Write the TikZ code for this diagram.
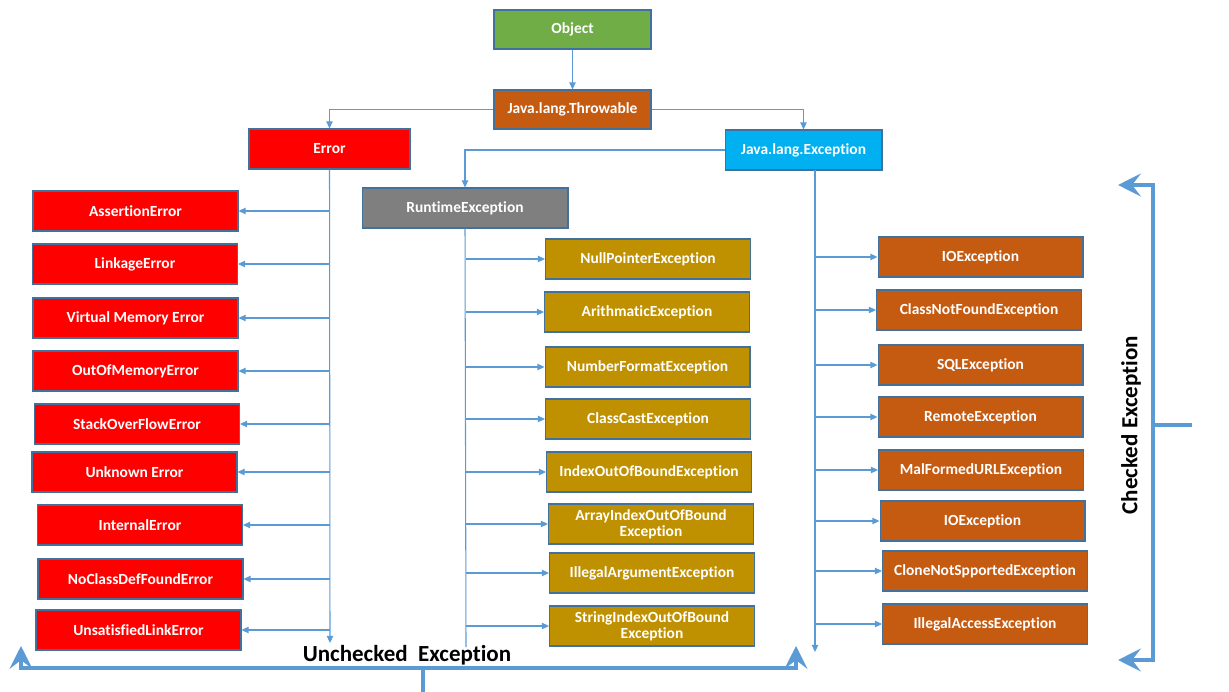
\documentclass[tikz,border=0pt]{standalone}
\usepackage{fontspec}
\setmainfont{Carlito}[Ligatures=NoCommon]
\usetikzlibrary{arrows.meta}

\definecolor{connblue}{HTML}{5B9BD5}
\definecolor{boxline}{HTML}{41719C}
\definecolor{objgreen}{HTML}{70AD47}
\definecolor{thrbrown}{HTML}{C55A11}
\definecolor{errred}{HTML}{FF0000}
\definecolor{exccyan}{HTML}{00B0F0}
\definecolor{rtgray}{HTML}{7F7F7F}
\definecolor{rtgold}{HTML}{BF9000}

\tikzset{
  box/.style={draw=boxline, line width=0.6pt, text=white, align=center,
    font=\bfseries\fontsize{8.8}{9.2}\selectfont, inner sep=1pt,
    minimum width=4.1cm, minimum height=0.8cm},
  errbox/.style={box, fill=errred},
  rtbox/.style={box, fill=rtgold},
  chkbox/.style={box, fill=thrbrown},
  conn/.style={draw=connblue, line width=0.6pt},
  arr/.style={-{Triangle[length=4pt,width=3.6pt]}},
  brace/.style={draw=connblue, line width=2.3pt, line join=miter,
    {Stealth[length=13pt,width=13pt,inset=5pt]}-{Stealth[length=13pt,width=13pt,inset=5pt]}},
  stem/.style={draw=connblue, line width=2.3pt},
  lbl/.style={font=\bfseries\fontsize{13.1}{14}\selectfont, text=black}
}

\begin{document}
\begin{tikzpicture}[x=0.02cm, y=-0.02cm]
\useasboundingbox (0,0) rectangle (1229,692);

% top of the tree
\node[box, fill=objgreen, minimum width=3.14cm, minimum height=0.78cm] (obj) at (572.5,29.5) {Object};
\node[box, fill=thrbrown, minimum width=3.14cm, minimum height=0.78cm] (thr) at (572.5,109.5) {Java.lang.Throwable};
\node[box, fill=errred, minimum width=3.22cm] (err) at (329.5,149) {Error};
\node[box, fill=exccyan, minimum width=3.14cm] (exc) at (803.5,150) {Java.lang.Exception};
\node[box, fill=rtgray, minimum width=4.12cm] (rt) at (465,208) {RuntimeException};

\draw[conn,arr] (obj) -- (thr);
\draw[conn,arr] (thr.west) -| (err.north);
\draw[conn,arr] (thr.east) -| (exc.north);
\draw[conn,arr] (exc.west) -| (rt.north);

% errors
\node[errbox] (asse) at (135.5,211) {AssertionError};
\node[errbox] (linke) at (135,264) {LinkageError};
\node[errbox] (vme) at (135.5,318) {Virtual Memory Error};
\node[errbox] (oome) at (135.5,371) {OutOfMemoryError};
\node[errbox] (sofe) at (137,424) {StackOverFlowError};
\node[errbox] (unke) at (134.5,472) {Unknown Error};
\node[errbox] (inte) at (140,525) {InternalError};
\node[errbox] (ncdfe) at (140.5,579) {NoClassDefFoundError};
\node[errbox] (usle) at (138.5,630) {UnsatisfiedLinkError};

\coordinate (errend) at (330,643);
\draw[conn,arr] (err.south) -- (errend);
\draw[conn,arr] (errend |- asse.east) -- (asse.east);
\draw[conn,arr] (errend |- linke.east) -- (linke.east);
\draw[conn,arr] (errend |- vme.east) -- (vme.east);
\draw[conn,arr] (errend |- oome.east) -- (oome.east);
\draw[conn,arr] (errend |- sofe.east) -- (sofe.east);
\draw[conn,arr] (errend |- unke.east) -- (unke.east);
\draw[conn,arr] (errend |- inte.east) -- (inte.east);
\draw[conn,arr] (errend |- ncdfe.east) -- (ncdfe.east);
\draw[conn,arr] (errend |- usle.east) -- (usle.east);

% runtime exceptions
\node[rtbox] (npe) at (648,259) {NullPointerException};
\node[rtbox] (arie) at (647,312) {ArithmaticException};
\node[rtbox] (nfe) at (647.5,367) {NumberFormatException};
\node[rtbox] (cce) at (648,419) {ClassCastException};
\node[rtbox] (ioobe) at (649,472) {IndexOutOfBoundException};
\node[rtbox] (aioobe) at (651,524) {ArrayIndexOutOfBound\\Exception};
\node[rtbox] (iae) at (652,573) {IllegalArgumentException};
\node[rtbox] (sioobe) at (652,626) {StringIndexOutOfBound\\Exception};

\coordinate (rtend) at (466,647);
\draw[conn] (rt.south) -- (rtend);
\draw[conn,arr] (rtend |- npe.west) -- (npe.west);
\draw[conn,arr] (rtend |- arie.west) -- (arie.west);
\draw[conn,arr] (rtend |- nfe.west) -- (nfe.west);
\draw[conn,arr] (rtend |- cce.west) -- (cce.west);
\draw[conn,arr] (rtend |- ioobe.west) -- (ioobe.west);
\draw[conn,arr] (rtend |- aioobe.west) -- (aioobe.west);
\draw[conn,arr] (rtend |- iae.west) -- (iae.west);
\draw[conn,arr] (rtend |- sioobe.west) -- (sioobe.west);

% checked exceptions
\node[chkbox] (ioe) at (980.5,257) {IOException};
\node[chkbox] (cnfe) at (979,310) {ClassNotFoundException};
\node[chkbox] (sqle) at (980.5,365) {SQLException};
\node[chkbox] (reme) at (980.5,417) {RemoteException};
\node[chkbox] (murle) at (981,470) {MalFormedURLException};
\node[chkbox] (ioe2) at (982.5,521) {IOException};
\node[chkbox] (cnse) at (985,571) {CloneNotSpportedException};
\node[chkbox] (iacce) at (985,624) {IllegalAccessException};

\coordinate (exctop) at (815,170);
\coordinate (excend) at (815,652);
\draw[conn,arr] (exctop) -- (excend);
\draw[conn,arr] (excend |- ioe.west) -- (ioe.west);
\draw[conn,arr] (excend |- cnfe.west) -- (cnfe.west);
\draw[conn,arr] (excend |- sqle.west) -- (sqle.west);
\draw[conn,arr] (excend |- reme.west) -- (reme.west);
\draw[conn,arr] (excend |- murle.west) -- (murle.west);
\draw[conn,arr] (excend |- ioe2.west) -- (ioe2.west);
\draw[conn,arr] (excend |- cnse.west) -- (cnse.west);
\draw[conn,arr] (excend |- iacce.west) -- (iacce.west);

% brackets
\coordinate (ubl) at (21,646);
\coordinate (ubr) at (796,646);
\coordinate (ubm) at (423,668);
\draw[brace] (ubl) |- (ubr |- ubm) -- (ubr);
\draw[stem] (ubm) -- (423,692);
\node[lbl] (unchk) at (407,655) {Unchecked~~Exception};

\coordinate (cbt) at (1118,185);
\coordinate (cbb) at (1118,660);
\coordinate (cbm) at (1153,425);
\draw[brace] (cbt) -- (cbm |- cbt) -- (cbm |- cbb) -- (cbb);
\draw[stem] (cbm) -- (1192,425);
\node[lbl, rotate=90] (chk) at (1131,425) {Checked Exception};
\end{tikzpicture}
\end{document}
